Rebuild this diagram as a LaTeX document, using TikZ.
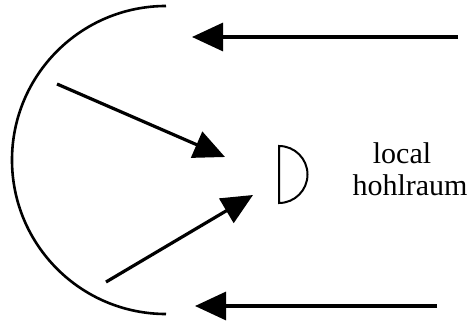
\documentclass[tikz,border=0pt]{standalone}
\usepackage{fontspec}
\setmainfont{Liberation Serif}
\usetikzlibrary{
  arrows.meta,
  calc,
  positioning
}

\begin{document}
\begin{tikzpicture}[x=1pt,y=-1pt,>={Triangle[length=31pt,width=28pt]}]
  \useasboundingbox (0,0) rectangle (470,323);
  % shell and incoming rays
  \draw[line width=2.6pt] (166,6) arc[start angle=-90,end angle=-270,radius=154];
  \coordinate (topin) at (458,37);
  \coordinate (topout) at (192,37);
  \coordinate (botin) at (437,306);
  \coordinate (botout) at (195,306);
  \coordinate (upin) at (57,84);
  \coordinate (upout) at (225,157);
  \coordinate (lowin) at (106,282);
  \coordinate (lowout) at (253,195);
  \foreach \a/\b in {topin/topout,botin/botout,upin/upout,lowin/lowout}{
    \draw[line width=3.2pt,->] (\a) -- (\b);
  }
  % target
  \draw[line width=2pt] (279,146) -- (279,203) arc[start angle=90,end angle=-90,radius=28.5] -- cycle;
  \node[anchor=base,inner sep=0pt,font=\fontsize{30}{34}\selectfont] (lab1) at (402,163) {local};
  \node[anchor=base,inner sep=0pt,font=\fontsize{30}{34}\selectfont] (lab2) at (410,195) {hohlraum};
\end{tikzpicture}
\end{document}
